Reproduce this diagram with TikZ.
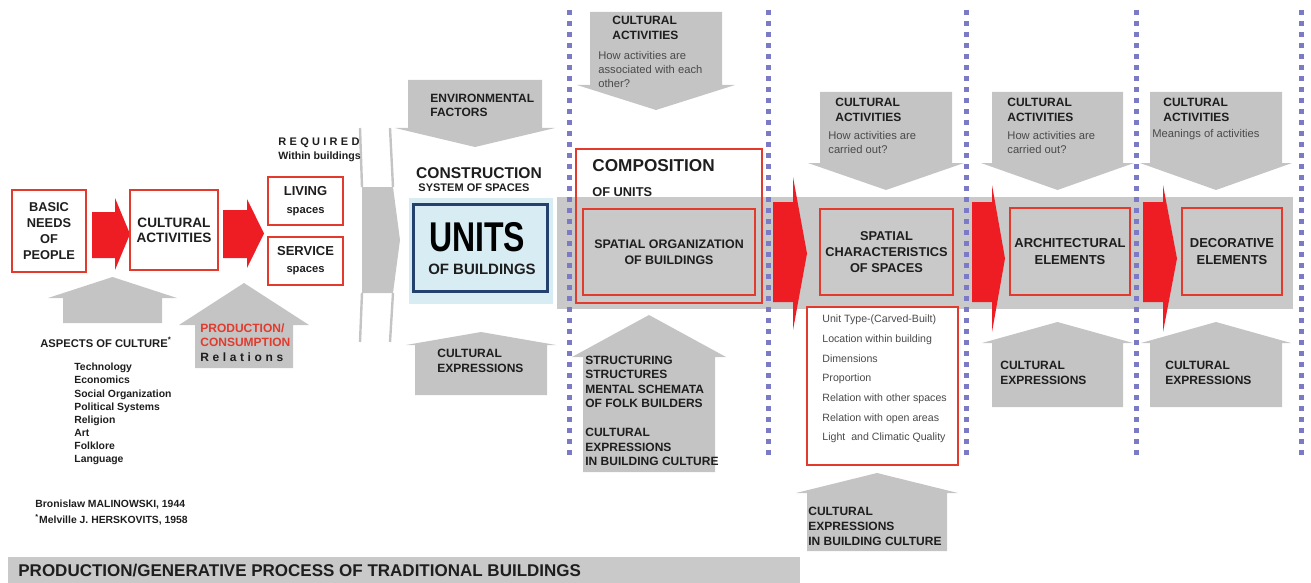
\documentclass[tikz,border=0pt]{standalone}
\usepackage{fontspec}
\setmainfont{Liberation Sans}
\newfontfamily\spacedfont[LetterSpace=30]{Liberation Sans}
\usepackage{tikz}
\usetikzlibrary{calc}
\definecolor{boxred}{HTML}{E23B2E}
\definecolor{arrowred}{HTML}{EE1D23}
\definecolor{arrowgrey}{HTML}{C4C4C4}
\definecolor{bandgrey}{HTML}{C9C9C9}
\definecolor{dotblue}{HTML}{7A7AC6}
\definecolor{unitblue}{HTML}{D8ECF4}
\definecolor{unitnavy}{HTML}{24406C}
\definecolor{inkgrey}{HTML}{1E1E1E}
\definecolor{askgrey}{HTML}{4A4A4A}
\def\greyblock(#1:#2:#3:#4:#5:#6){\fill[arrowgrey] (#1,#3) -- (#2,#3) -- (#2,#4) -- ({#2+#6},#4) -- ({(#1+#2)/2},#5) -- ({#1-#6},#4) -- (#1,#4) -- cycle}
\def\redblock(#1:#2:#3:#4:#5:#6:#7){\fill[arrowred] (#1,#4) -- (#2,#4) -- (#2,#6) -- (#3,{(#6+#7)/2}) -- (#2,#7) -- (#2,#5) -- (#1,#5) -- cycle}
\tikzset{
	redbox/.style={draw=boxred, line width=1.4pt, inner sep=0pt, align=center, text=inkgrey, font=\bfseries\fontsize{6.4}{8}\selectfont},
	headtxt/.style={anchor=west, inner sep=0pt, align=left, text=inkgrey, font=\bfseries\fontsize{6}{7.5}\selectfont},
	asktxt/.style={anchor=west, inner sep=0pt, align=left, text=askgrey, font=\fontsize{5.6}{7}\selectfont},
	dotline/.style={dotblue, line width=2.5pt, dash pattern=on 2.5pt off 3pt}
}

\begin{document}
\begin{tikzpicture}[x=0.5pt, y=-0.5pt]
			%%%%% START %%%%%
			
			\useasboundingbox (0,0) rectangle (1311,583);
			
			\fill[bandgrey] (557,197) rectangle (1293,309);
			\fill[unitblue] (409,198) rectangle (553,304);
			
			\foreach \x in {569,768,966,1136,1301}
				\draw[dotline] (\x,10) -- (\x,458);
			
			\greyblock(408:542:80:128:147:13);
			\greyblock(590:722:12:85:110:13);
			\greyblock(820:952:92:163:190:12);
			\greyblock(992:1123:92:163:190:11);
			\greyblock(1150:1282:92:163:190:10);
			
			\greyblock(63:162:323:298:277:15);
			\greyblock(195:293:368:325:283:16);
			\greyblock(415:547:395:345:332:9);
			\greyblock(583:715:472:357:315:11);
			\greyblock(807:947:551:493:473:11);
			\greyblock(992:1123:407:343:322:10);
			\greyblock(1150:1282:407:343:322:9);
			
			% tall grey chevron before the units
			\fill[arrowgrey] (362,187) -- (393,187) -- (400,240) -- (393,293) -- (362,293) -- cycle;
			\draw[arrowgrey, line width=1.2pt] (360,128) -- (362,187) (362,293) -- (360,342);
			\draw[arrowgrey, line width=1.2pt] (390,128) -- (393,187) (393,293) -- (390,342);
			
			\redblock(92:115:130:212:258:198:270);
			\redblock(223:247:264:210:258:199:268);
			\redblock(773:793:807:202:302:177:330);
			\redblock(972:992:1005:202:302:185:332);
			\redblock(1143:1163:1177:202:302:185:332);
			
			\node[redbox, fill=white, minimum width=37pt, minimum height=41pt] (basic) at (49,231) {BASIC\\NEEDS\\OF\\PEOPLE};
			\node[redbox, fill=white, minimum width=44pt, minimum height=40pt, font=\bfseries\fontsize{6.8}{7.6}\selectfont] (cultact) at (174,230) {CULTURAL\\ACTIVITIES};
			\node[redbox, fill=white, minimum width=37.5pt, minimum height=24pt, font=\bfseries\fontsize{6.5}{8.8}\selectfont] (living) at (305.5,201) {LIVING\\{\fontsize{5.6}{8.8}\selectfont spaces}};
			\node[redbox, fill=white, minimum width=37.5pt, minimum height=24pt, font=\bfseries\fontsize{6.5}{8.6}\selectfont] (service) at (305.5,261) {SERVICE\\{\fontsize{5.6}{8.6}\selectfont spaces}};
			
			\node[headtxt, font=\spacedfont\bfseries\fontsize{5.5}{6.5}\selectfont] (required) at (278,143) {REQUIRED};
			\node[headtxt, font=\bfseries\fontsize{5.3}{6.5}\selectfont] (within) at (278,157) {Within buildings};
			
			\node[draw=unitnavy, fill=unitblue, line width=1.5pt, minimum width=67pt, minimum height=43.5pt] (unitsbox) at (480,247.5) {};
			\node[inner sep=0pt, text=black, font=\bfseries\fontsize{16}{16}\selectfont] (units) at (477,237) {\scalebox{1}[1.3]{UNITS}};
			\node[inner sep=0pt, text=inkgrey, font=\bfseries\fontsize{7.5}{8}\selectfont] (ofbuildings) at (482,269) {OF BUILDINGS};
			\node[inner sep=0pt, text=inkgrey, font=\bfseries\fontsize{7.8}{8}\selectfont] (construction) at (479,173) {CONSTRUCTION};
			\node[inner sep=0pt, text=inkgrey, font=\bfseries\fontsize{5.5}{6}\selectfont] (systemspaces) at (474,188) {SYSTEM OF SPACES};
			
			\node[draw=boxred, line width=1.4pt, minimum width=93pt, minimum height=77pt] (compbox) at (669,226) {};
			\node[headtxt, font=\bfseries\fontsize{8.6}{9}\selectfont] (composition) at (592,166) {COMPOSITION};
			\node[headtxt, font=\bfseries\fontsize{6.4}{7}\selectfont] (ofunits) at (592,192) {OF UNITS};
			\node[redbox, minimum width=86pt, minimum height=43pt, font=\bfseries\fontsize{6.2}{8}\selectfont] (spatorg) at (669,252) {SPATIAL ORGANIZATION\\OF BUILDINGS};
			\node[redbox, minimum width=66.5pt, minimum height=43pt] (spatchar) at (886.5,252) {SPATIAL\\CHARACTERISTICS\\OF SPACES};
			\node[redbox, minimum width=60pt, minimum height=43.5pt, font=\bfseries\fontsize{6.5}{8.5}\selectfont] (archel) at (1070,251.5) {ARCHITECTURAL\\ELEMENTS};
			\node[redbox, minimum width=50pt, minimum height=43.5pt, font=\bfseries\fontsize{6.5}{8.5}\selectfont] (decel) at (1232,251.5) {DECORATIVE\\ELEMENTS};
			
			\node[draw=boxred, fill=white, line width=1.4pt, minimum width=75.5pt, minimum height=79pt] (listbox) at (882.5,386) {};
			\node[asktxt, font=\fontsize{5.3}{9.85}\selectfont] (listtxt) at (822,379) {Unit Type-(Carved-Built)\\Location within building\\Dimensions\\Proportion\\Relation with other spaces\\Relation with open areas\\Light\ \ and Climatic Quality};
			
			\node[headtxt, font=\bfseries\fontsize{6}{7}\selectfont] (envtxt) at (430,105) {ENVIRONMENTAL\\FACTORS};
			\node[headtxt] (topcatxt) at (612,27.5) {CULTURAL\\ACTIVITIES};
			\node[asktxt] (topcaask) at (598,69) {How activities are\\associated with each\\other?};
			\node[headtxt] (sctxt) at (835,109.5) {CULTURAL\\ACTIVITIES};
			\node[asktxt] (scask) at (828,142) {How activities are\\carried out?};
			\node[headtxt] (archtxt) at (1007,109.5) {CULTURAL\\ACTIVITIES};
			\node[asktxt] (archask) at (1007,142) {How activities are\\carried out?};
			\node[headtxt] (dectxt) at (1163,109.5) {CULTURAL\\ACTIVITIES};
			\node[asktxt] (decask) at (1152,135) {Meanings of activities};
			
			\node[headtxt] (unitsexpr) at (437,360.5) {CULTURAL\\EXPRESSIONS};
			\node[headtxt, font=\bfseries\fontsize{6}{7.25}\selectfont] (structtxt) at (585,411) {STRUCTURING\\STRUCTURES\\MENTAL SCHEMATA\\OF FOLK BUILDERS\\[7.25pt]CULTURAL\\EXPRESSIONS\\IN BUILDING CULTURE};
			\node[headtxt] (listexpr) at (808,526) {CULTURAL\\EXPRESSIONS\\IN BUILDING CULTURE};
			\node[headtxt] (archexpr) at (1000,372.5) {CULTURAL\\EXPRESSIONS};
			\node[headtxt] (decexpr) at (1165,372.5) {CULTURAL\\EXPRESSIONS};
			
			\node[headtxt, font=\bfseries\fontsize{5.6}{6.5}\selectfont] (aspects) at (40,342) {ASPECTS OF CULTURE\textsuperscript{*}};
			\node[headtxt, font=\bfseries\fontsize{5.2}{6.55}\selectfont] (aspectlist) at (74,414) {Technology\\Economics\\Social Organization\\Political Systems\\Religion\\Art\\Folklore\\Language};
			\node[headtxt, font=\bfseries\fontsize{6}{7.25}\selectfont] (production) at (200,342.5) {\textcolor{boxred}{PRODUCTION/}\\\textcolor{boxred}{CONSUMPTION}\\{\spacedfont Relations}};
			\node[headtxt, font=\bfseries\fontsize{5.2}{8}\selectfont] (sources) at (35,513) {Bronislaw MALINOWSKI, 1944\\\textsuperscript{*}Melville J. HERSKOVITS, 1958};
			
			\fill[bandgrey] (8,557) rectangle (800,583);
			\node[headtxt, font=\bfseries\fontsize{8.5}{9}\selectfont] (banner) at (18,571) {PRODUCTION/GENERATIVE PROCESS OF TRADITIONAL BUILDINGS};
			
			%%%%% END %%%%%
		\end{tikzpicture}
\end{document}
